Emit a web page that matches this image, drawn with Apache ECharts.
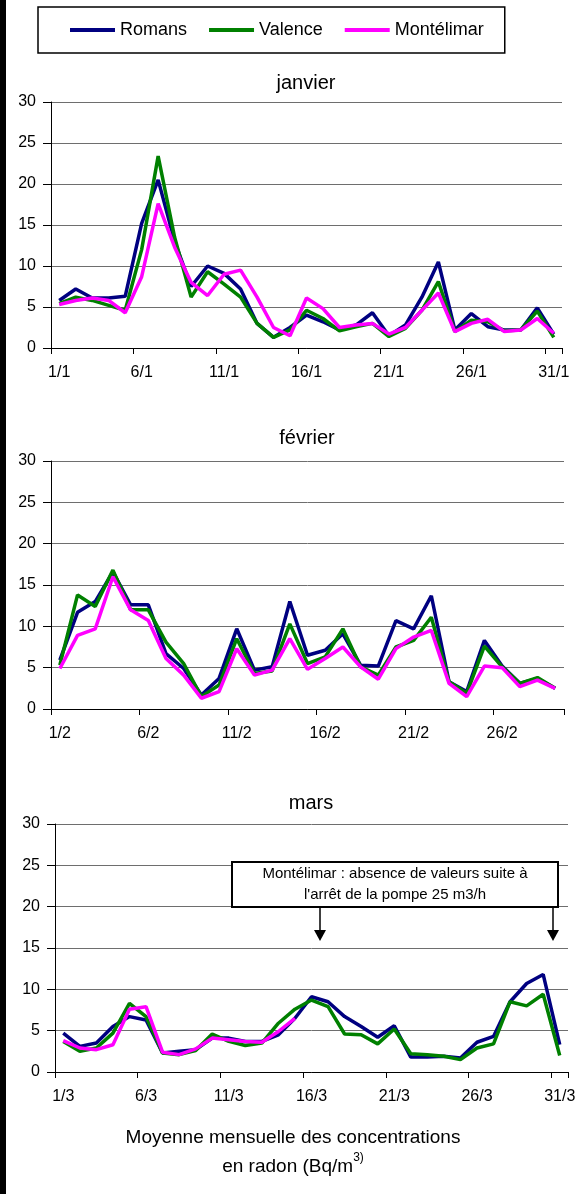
<!DOCTYPE html>
<html><head><meta charset="utf-8">
<script src="https://cdn.jsdelivr.net/npm/echarts@6/dist/echarts.min.js"></script>
<style>html,body{margin:0;padding:0;background:#fff}#c{width:587px;height:1194px}</style>
</head><body><div id="c"></div>
<script>
// ---- categories ----
function dayLabels(n, m){ var a=[]; for(var i=1;i<=n;i++){ a.push(i+'/'+m); } return a; }
const janLabels = dayLabels(31, 1);
const febLabels = dayLabels(29, 2);
const marLabels = dayLabels(31, 3);
const seriesNames = ['Romans','Valence','Montélimar'];
const yTicks = [0,5,10,15,20,25,30];

// ---- values (Bq/m3) ----
const janRomans     = [5.8,7.2,6.1,6.1,6.3,15.2,20.5,13.0,7.5,10.0,9.1,7.2,3.0,1.3,2.5,4.0,3.2,2.2,2.8,4.3,1.5,2.8,6.2,10.5,2.2,4.2,2.6,2.2,2.2,4.9,1.7];
const janValence    = [5.4,6.2,5.8,5.2,4.6,12.0,23.4,13.5,6.2,9.3,7.8,6.2,3.0,1.3,2.2,4.6,3.6,2.1,2.6,3.0,1.4,2.4,4.6,8.1,2.0,3.4,3.2,2.1,2.2,4.5,1.3];
const janMontelimar = [5.3,5.8,6.1,5.8,4.3,8.7,17.6,12.3,8.0,6.4,9.0,9.5,6.2,2.5,1.5,6.1,4.8,2.5,2.8,3.0,1.7,2.5,4.6,6.7,2.0,3.0,3.5,2.0,2.2,3.6,1.8];

const febRomans     = [5.9,11.7,13.0,16.6,12.6,12.6,6.7,4.9,1.7,3.7,9.7,4.7,5.1,13.0,6.5,7.1,9.1,5.3,5.2,10.7,9.7,13.7,3.3,2.1,8.3,5.2,3.1,3.7,2.5];
const febValence    = [5.3,13.8,12.4,16.8,12.0,12.0,8.1,5.5,1.5,2.9,8.5,4.3,4.6,10.3,5.5,6.3,9.7,5.1,4.1,7.5,8.3,11.1,3.3,1.9,7.6,5.1,3.1,3.8,2.5];
const febMontelimar = [4.9,8.9,9.7,16.0,12.0,10.7,6.1,4.1,1.3,2.1,7.3,4.1,4.7,8.5,4.8,6.1,7.5,5.1,3.6,7.3,8.7,9.5,3.1,1.5,5.2,5.0,2.7,3.5,2.5];

const marRomans     = [4.7,3.1,3.5,5.5,6.7,6.3,2.3,2.5,2.7,4.1,4.1,3.7,3.7,4.5,6.5,9.1,8.5,6.7,5.5,4.2,5.6,1.8,1.8,1.9,1.7,3.6,4.3,8.5,10.7,11.8,3.3];
const marValence    = [3.7,2.5,2.9,4.7,8.3,6.7,2.3,2.1,2.6,4.6,3.7,3.2,3.5,5.9,7.6,8.7,7.9,4.6,4.5,3.4,5.2,2.2,2.1,1.9,1.5,2.9,3.4,8.5,8.0,9.4,2.0];
const marMontelimar = [3.8,2.9,2.7,3.3,7.6,7.9,2.4,2.1,2.8,4.1,3.9,3.7,3.6,4.9,6.5,null,null,null,null,null,null,null,null,null,null,null,null,null,null,null,null];

const FONT = '"Liberation Sans", Arial, sans-serif';
const colors = ['#000080','#008000','#FF00FF'];

const grids = [
  {left:51, right:25, top:102, height:246},
  {left:51, right:23, top:461, height:248},
  {left:55, right:19, top:824, height:248}
];
const months = [
  {labels:janLabels, data:[janRomans,janValence,janMontelimar]},
  {labels:febLabels, data:[febRomans,febValence,febMontelimar]},
  {labels:marLabels, data:[marRomans,marValence,marMontelimar]}
];

const xAxes = [], yAxes = [], series = [];
months.forEach(function(m, gi){
  xAxes.push({
    gridIndex:gi, type:'category', data:m.labels, boundaryGap:true,
    axisLine:{show:true, lineStyle:{color:'#000', width:1}},
    axisTick:{show:true, interval:4, length:6, lineStyle:{color:'#000', width:1}},
    axisLabel:{interval:4, fontSize:16, margin:17, color:'#000', fontFamily:FONT},
    splitLine:{show:false}
  });
  yAxes.push({
    gridIndex:gi, type:'value', min:yTicks[0], max:yTicks[yTicks.length-1], interval:5,
    axisLine:{show:true, lineStyle:{color:'#000', width:1}},
    axisTick:{show:true, length:8, lineStyle:{color:'#000', width:1}},
    axisLabel:{fontSize:16, margin:15, color:'#000', fontFamily:FONT},
    splitLine:{show:true, lineStyle:{color:'#6e6e6e', width:1}}
  });
  m.data.forEach(function(arr, si){
    series.push({
      name:seriesNames[si], type:'line', xAxisIndex:gi, yAxisIndex:gi,
      data:arr, symbol:'none', connectNulls:false,
      lineStyle:{color:colors[si], width:3.5},
      itemStyle:{color:colors[si]}
    });
  });
});

function txt(x, y, text, size, extra){
  var st = Object.assign({text:text, x:0, y:0, fill:'#000', fontSize:size, fontFamily:FONT,
    align:'center', verticalAlign:'middle', textAlign:'center', textVerticalAlign:'middle'}, extra||{});
  return {type:'text', x:x, y:y, z:100, style:st, silent:true};
}

const graphics = [
  {type:'rect', shape:{x:0, y:0, width:6, height:1194}, style:{fill:'#000'}, z:100, silent:true},
  txt(306, 83, 'janvier', 20),
  txt(307, 438, 'février', 20),
  txt(311, 803, 'mars', 20),
  // annotation box
  {type:'rect', shape:{x:232, y:862, width:326, height:45}, style:{fill:'#fff', stroke:'#000', lineWidth:2}, z:90, silent:true},
  txt(395, 874, 'Montélimar : absence de valeurs suite à', 15),
  txt(395, 895, "l'arrêt de la pompe 25 m3/h", 15),
  {type:'line', shape:{x1:320, y1:907, x2:320, y2:932}, style:{stroke:'#000', lineWidth:1.5}, z:90, silent:true},
  {type:'polygon', shape:{points:[[314,930],[326,930],[320,941]]}, style:{fill:'#000'}, z:90, silent:true},
  {type:'line', shape:{x1:553, y1:907, x2:553, y2:932}, style:{stroke:'#000', lineWidth:1.5}, z:90, silent:true},
  {type:'polygon', shape:{points:[[547,930],[559,930],[553,941]]}, style:{fill:'#000'}, z:90, silent:true},
  // footer
  txt(293, 1138, 'Moyenne mensuelle des concentrations', 19),
  {type:'text', x:293, y:1164, z:100, silent:true, style:{
    text:'{a|en radon (Bq/m}{b|3)}', x:0, y:0, fill:'#000',
    align:'center', verticalAlign:'middle', textAlign:'center', textVerticalAlign:'middle',
    rich:{
      a:{fontSize:19, fontFamily:FONT, fill:'#000', color:'#000', lineHeight:24, verticalAlign:'bottom'},
      b:{fontSize:12, fontFamily:FONT, fill:'#000', color:'#000', lineHeight:24, verticalAlign:'top', padding:[0,0,0,0]}
    }
  }}
];

const chart = echarts.init(document.getElementById('c'), null, {renderer:'canvas'});
chart.setOption({
  animation:false,
  backgroundColor:'#fff',
  legend:{
    data:seriesNames, left:38, top:7, padding:[14,21,14,32], itemWidth:45, itemHeight:4,
    itemGap:22, icon:'rect', borderColor:'#000', borderWidth:1.5, selectedMode:false,
    textStyle:{fontSize:18, fontFamily:FONT, color:'#000'}
  },
  grid:grids,
  xAxis:xAxes,
  yAxis:yAxes,
  series:series,
  graphic:graphics
});
</script>
</body></html>
